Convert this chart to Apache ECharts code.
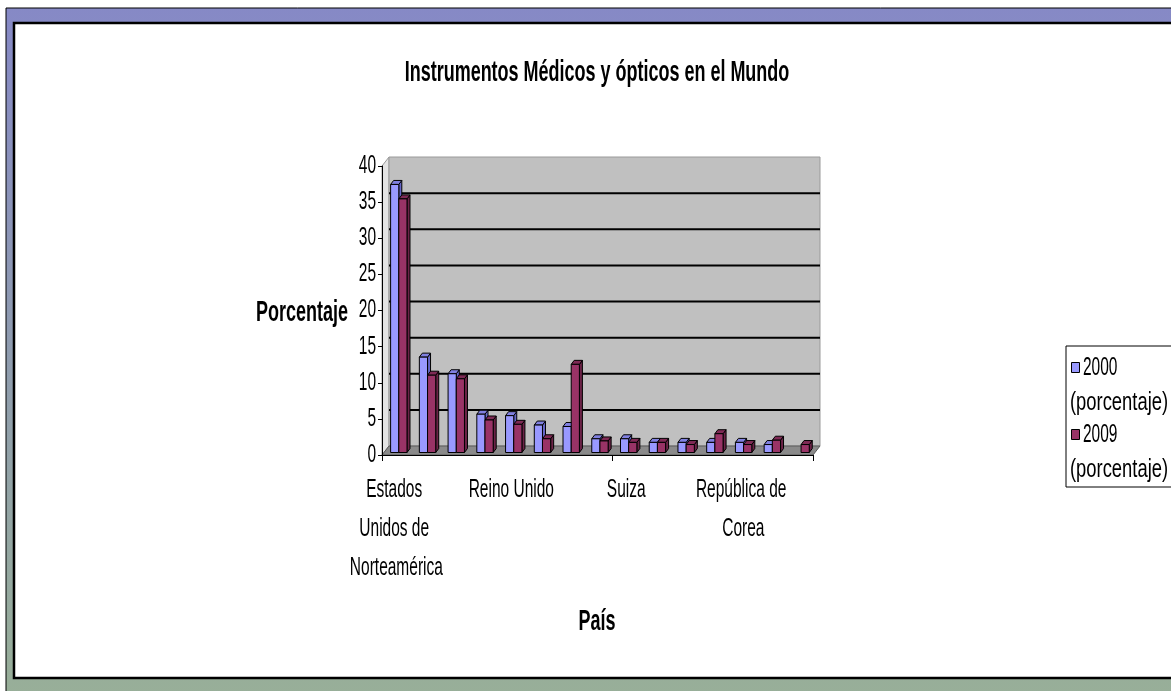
<!DOCTYPE html>
<html>
<head>
<meta charset="utf-8">
<script src="https://cdn.jsdelivr.net/npm/echarts@6/dist/echarts.min.js"></script>
<style>
  html, body { margin: 0; padding: 0; background: #ffffff; }
  #chart { width: 1171px; height: 691px; }
</style>
</head>
<body>
<div id="chart"></div>
<script>
// ---- data ----
const categories = [
  'Estados Unidos de Norteamérica', 'Alemania', 'Japón', 'Francia', 'Reino Unido',
  'Países Bajos', 'China', 'Irlanda', 'Suiza', 'Italia',
  'Canadá', 'México', 'República de Corea', 'Singapur', 'Israel'
];
const valores2000 = [37.1, 13.2, 10.9, 5.3, 5.1, 3.8, 3.6, 1.9, 1.9, 1.4, 1.4, 1.4, 1.4, 1.1, 0];
const valores2009 = [35.1, 10.7, 10.2, 4.5, 3.9, 1.9, 12.2, 1.6, 1.4, 1.4, 1.1, 2.6, 1.1, 1.7, 1.1];
const yTicks = [0, 5, 10, 15, 20, 25, 30, 35, 40];
const seriesNames = ['2000 (porcentaje)', '2009 (porcentaje)'];
const chartTitle = 'Instrumentos Médicos y ópticos en el Mundo';
const yAxisName = 'Porcentaje';
const xAxisName = 'País';

// ---- styling ----
const FONT = '"Liberation Sans", Arial, sans-serif';
const SX = 0.62;              // horizontal text compression
const SX_LEGEND_NOTE = 0.735; // the "(porcentaje)" lines of the legend run a little wider
const FS = 25;                // regular text size
const FS_BOLD = 29;           // title / axis names
const faceColors = [
  { front: '#9999ff', top: '#8080e0', side: '#6666c8' },
  { front: '#993366', top: '#7f2a55', side: '#6b2347' }
];
const DX = 7, DY = -9;        // depth of the back wall
const BAR_DX = 3, BAR_DY = -4; // depth of each column
const BAR_LIFT = 2.5;         // columns stand mid-way on the floor
const GROUP_START = 0.30, BAR_FRAC = 0.285;
const LABEL_STEP = 4;
const GRID = { left: 382, top: 166, width: 431, height: 289 };

const chart = echarts.init(document.getElementById('chart'));

function wallItem(params, api) {
  const bw = api.size([1, 0])[0];
  const x0 = api.coord([0, 0])[0] - bw / 2;
  const x1 = api.coord([categories.length - 1, 0])[0] + bw / 2;
  const y0 = api.coord([0, yTicks[0]])[1];
  const yT = api.coord([0, yTicks[yTicks.length - 1]])[1];
  const children = [];
  children.push({ type: 'polygon',
    shape: { points: [[x0, y0], [x0, yT], [x0 + DX, yT + DY], [x0 + DX, y0 + DY]] },
    style: { fill: '#e4e4e4', stroke: '#9a9a9a', lineWidth: 1 } });
  children.push({ type: 'rect',
    shape: { x: x0 + DX, y: yT + DY, width: x1 - x0, height: y0 - yT },
    style: { fill: '#c0c0c0', stroke: '#9a9a9a', lineWidth: 1 } });
  yTicks.slice(1, -1).forEach(v => {
    const y = api.coord([0, v])[1] + DY;
    children.push({ type: 'line',
      shape: { x1: x0 + DX, y1: y, x2: x1 + DX, y2: y },
      style: { stroke: '#000', lineWidth: 2 } });
  });
  children.push({ type: 'polygon',
    shape: { points: [[x0, y0], [x1, y0], [x1 + DX, y0 + DY], [x0 + DX, y0 + DY]] },
    style: { fill: '#8a8a8a', stroke: '#5a5a5a', lineWidth: 1 } });
  return { type: 'group', children };
}

function columnItem(k) {
  const c = faceColors[k];
  return function (params, api) {
    const i = api.value(0), v = api.value(1);
    if (!(v > 0)) return null;
    const bw = api.size([1, 0])[0];
    const base = api.coord([i, 0]);
    const top = api.coord([i, v]);
    const fx = base[0] - bw / 2 + bw * (GROUP_START + BAR_FRAC * k);
    const fw = bw * BAR_FRAC;
    const by = base[1] - BAR_LIFT;
    const ty = top[1] - BAR_LIFT;
    const edge = { stroke: '#000', lineWidth: 1, lineJoin: 'round' };
    return { type: 'group', children: [
      { type: 'polygon',
        shape: { points: [[fx + fw, by], [fx + fw, ty], [fx + fw + BAR_DX, ty + BAR_DY], [fx + fw + BAR_DX, by + BAR_DY]] },
        style: Object.assign({ fill: c.side }, edge) },
      { type: 'polygon',
        shape: { points: [[fx, ty], [fx + fw, ty], [fx + fw + BAR_DX, ty + BAR_DY], [fx + BAR_DX, ty + BAR_DY]] },
        style: Object.assign({ fill: c.top }, edge) },
      { type: 'rect', shape: { x: fx, y: ty, width: fw, height: by - ty },
        style: Object.assign({ fill: c.front }, edge) }
    ] };
  };
}

function categoryLabelItem(params, api) {
  const i = api.value(0);
  if (i % LABEL_STEP !== 0) return null;
  const p = api.coord([i, 0]);
  return { type: 'text', x: p[0], y: p[1] + 16, scaleX: SX,
    style: { text: categories[i], x: 0, y: 0, align: 'center', verticalAlign: 'top',
      width: 100 / SX, overflow: 'break', lineHeight: 39,
      fontFamily: FONT, fontSize: FS, fill: '#000' } };
}

function tickLabelItem(params, api) {
  const v = api.value(1);
  const bw = api.size([1, 0])[0];
  const p = api.coord([0, v]);
  return { type: 'text', x: p[0] - bw / 2 - 6, y: p[1], scaleX: SX,
    style: { text: String(v), x: 0, y: 0, align: 'right', verticalAlign: 'middle',
      fontFamily: FONT, fontSize: FS, fill: '#000' } };
}

function scaledText(text, x, y, size, weight, align, sx) {
  return { type: 'text', x, y, scaleX: sx || SX, z: 20,
    style: { text, x: 0, y: 0, align: align || 'center', verticalAlign: 'middle',
      fontFamily: FONT, fontSize: size, fontWeight: weight || 'normal', fill: '#000' } };
}

// legend, built from the series names and colours
const legendItems = [];
legendItems.push({ type: 'rect', z: 19, shape: { x: 1066, y: 346, width: 130, height: 141 },
  style: { fill: '#fff', stroke: '#000', lineWidth: 1 } });
seriesNames.forEach((name, k) => {
  const cut = name.indexOf(' ');
  const yy = 368 + k * 67;
  legendItems.push({ type: 'rect', z: 20, shape: { x: 1071.5, y: yy - 5.5, width: 8, height: 10 },
    style: { fill: faceColors[k].front, stroke: '#000', lineWidth: 1 } });
  legendItems.push(scaledText(name.slice(0, cut), 1083, yy, FS, 'normal', 'left'));
  legendItems.push(scaledText(name.slice(cut + 1), 1070, yy + 35, FS, 'normal', 'left', SX_LEGEND_NOTE));
});

const option = {
  animation: false,
  grid: GRID,
  xAxis: {
    type: 'category', data: categories, z: 10,
    axisLine: { lineStyle: { color: '#000', width: 1 } },
    axisTick: { show: true, length: 6, lineStyle: { color: '#000' } },
    axisLabel: { show: false },
    splitLine: { show: false }
  },
  yAxis: {
    type: 'value', min: 0, max: 40, interval: 5, z: 10,
    axisLine: { show: true, lineStyle: { color: '#000', width: 1 } },
    axisTick: { show: true, length: 4, lineStyle: { color: '#000' } },
    axisLabel: { show: false },
    splitLine: { show: false }
  },
  graphic: [
    { type: 'rect', z: -10, shape: { x: 6, y: 8, width: 1170, height: 690 },
      style: { fill: new echarts.graphic.LinearGradient(0, 0, 0, 1, [
        { offset: 0, color: '#8689c6' }, { offset: 1, color: '#98af98' }]),
        stroke: '#000', lineWidth: 1 } },
    { type: 'rect', z: -9, shape: { x: 14, y: 23, width: 1200, height: 655 },
      style: { fill: '#fff', stroke: '#000', lineWidth: 2.5 } },
    scaledText(chartTitle, 597, 73, FS_BOLD, 'bold'),
    scaledText(yAxisName, 302, 313, FS_BOLD, 'bold'),
    scaledText(xAxisName, 597, 622, FS_BOLD, 'bold')
  ].concat(legendItems),
  series: [
    { type: 'custom', name: 'pared', renderItem: wallItem, data: [[0, 0]], clip: false, z: 1, silent: true },
    { type: 'custom', name: seriesNames[0], renderItem: columnItem(0),
      data: valores2000.map((v, i) => [i, v]), clip: false, z: 2 },
    { type: 'custom', name: seriesNames[1], renderItem: columnItem(1),
      data: valores2009.map((v, i) => [i, v]), clip: false, z: 3 },
    { type: 'custom', name: 'categorías', renderItem: categoryLabelItem,
      data: categories.map((c, i) => [i, 0]), clip: false, z: 4, silent: true },
    { type: 'custom', name: 'escala', renderItem: tickLabelItem,
      data: yTicks.map(v => [0, v]), clip: false, z: 4, silent: true }
  ]
};
chart.setOption(option);
</script>
</body>
</html>
